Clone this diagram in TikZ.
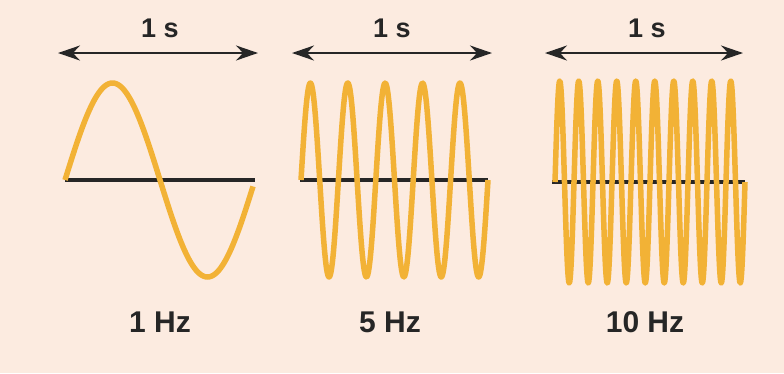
\documentclass[tikz,border=0pt]{standalone}
\usepackage{fontspec}
\setmainfont{Liberation Sans}
\usetikzlibrary{arrows.meta, positioning}
\definecolor{bgpeach}{HTML}{FCEBE0}
\definecolor{waveorange}{HTML}{F2B236}
\definecolor{inkgrey}{HTML}{262626}

\begin{document}
\begin{tikzpicture}[
    x=1pt, y=-1pt,
    every node/.style={text=inkgrey, anchor=base, inner sep=0pt},
    toplabel/.style={font=\bfseries\fontsize{27}{30}\selectfont},
    freqlabel/.style={font=\bfseries\fontsize{30}{34}\selectfont},
    span/.style={{Stealth[length=22pt, width=15pt]}-{Stealth[length=22pt, width=15pt]}, line width=2.5pt, draw=inkgrey},
    axis/.style={line width=4pt, draw=inkgrey},
    wave/.style={line width=5.5pt, draw=waveorange, line join=round}
]
    \fill[bgpeach] (0,0) rectangle (784,373);
    \useasboundingbox (0,0) rectangle (784,373);

    % 1 Hz
    \coordinate (spanAl) at (58,53);
    \coordinate (spanAr) at (258,53);
    \draw[span] (spanAl) -- (spanAr);
    \node[toplabel] (secA) at (160,37) {1 s};
    \coordinate (axisAl) at (65,180);
    \coordinate (axisAr) at (255,180);
    \draw[axis] (axisAl) -- (axisAr);
    \draw[wave] plot[domain=0:188, samples=200] ({65+\x}, {180 - 97*sin(\x/190*360)});
    \node[freqlabel] (hzA) at (160,332) {1 Hz};

    % 5 Hz
    \coordinate (spanBl) at (292,53);
    \coordinate (spanBr) at (492,53);
    \draw[span] (spanBl) -- (spanBr);
    \node[toplabel] (secB) at (392,37) {1 s};
    \coordinate (axisBl) at (300,180);
    \coordinate (axisBr) at (488,180);
    \draw[axis] (axisBl) -- (axisBr);
    \draw[wave] plot[domain=0:187, samples=300] ({301+\x}, {180 - 97*sin(\x/37.4*360)});
    \node[freqlabel] (hzB) at (390,332) {5 Hz};

    % 10 Hz
    \coordinate (spanCl) at (545,53);
    \coordinate (spanCr) at (743,53);
    \draw[span] (spanCl) -- (spanCr);
    \node[toplabel] (secC) at (647,37) {1 s};
    \coordinate (axisCl) at (552,182);
    \coordinate (axisCr) at (745,182);
    \draw[axis] (axisCl) -- (axisCr);
    \draw[wave] plot[domain=0:190, samples=500] ({555+\x}, {182 - 101*sin(\x/19*360)});
    \node[freqlabel] (hzC) at (645,332) {10 Hz};
\end{tikzpicture}
\end{document}
